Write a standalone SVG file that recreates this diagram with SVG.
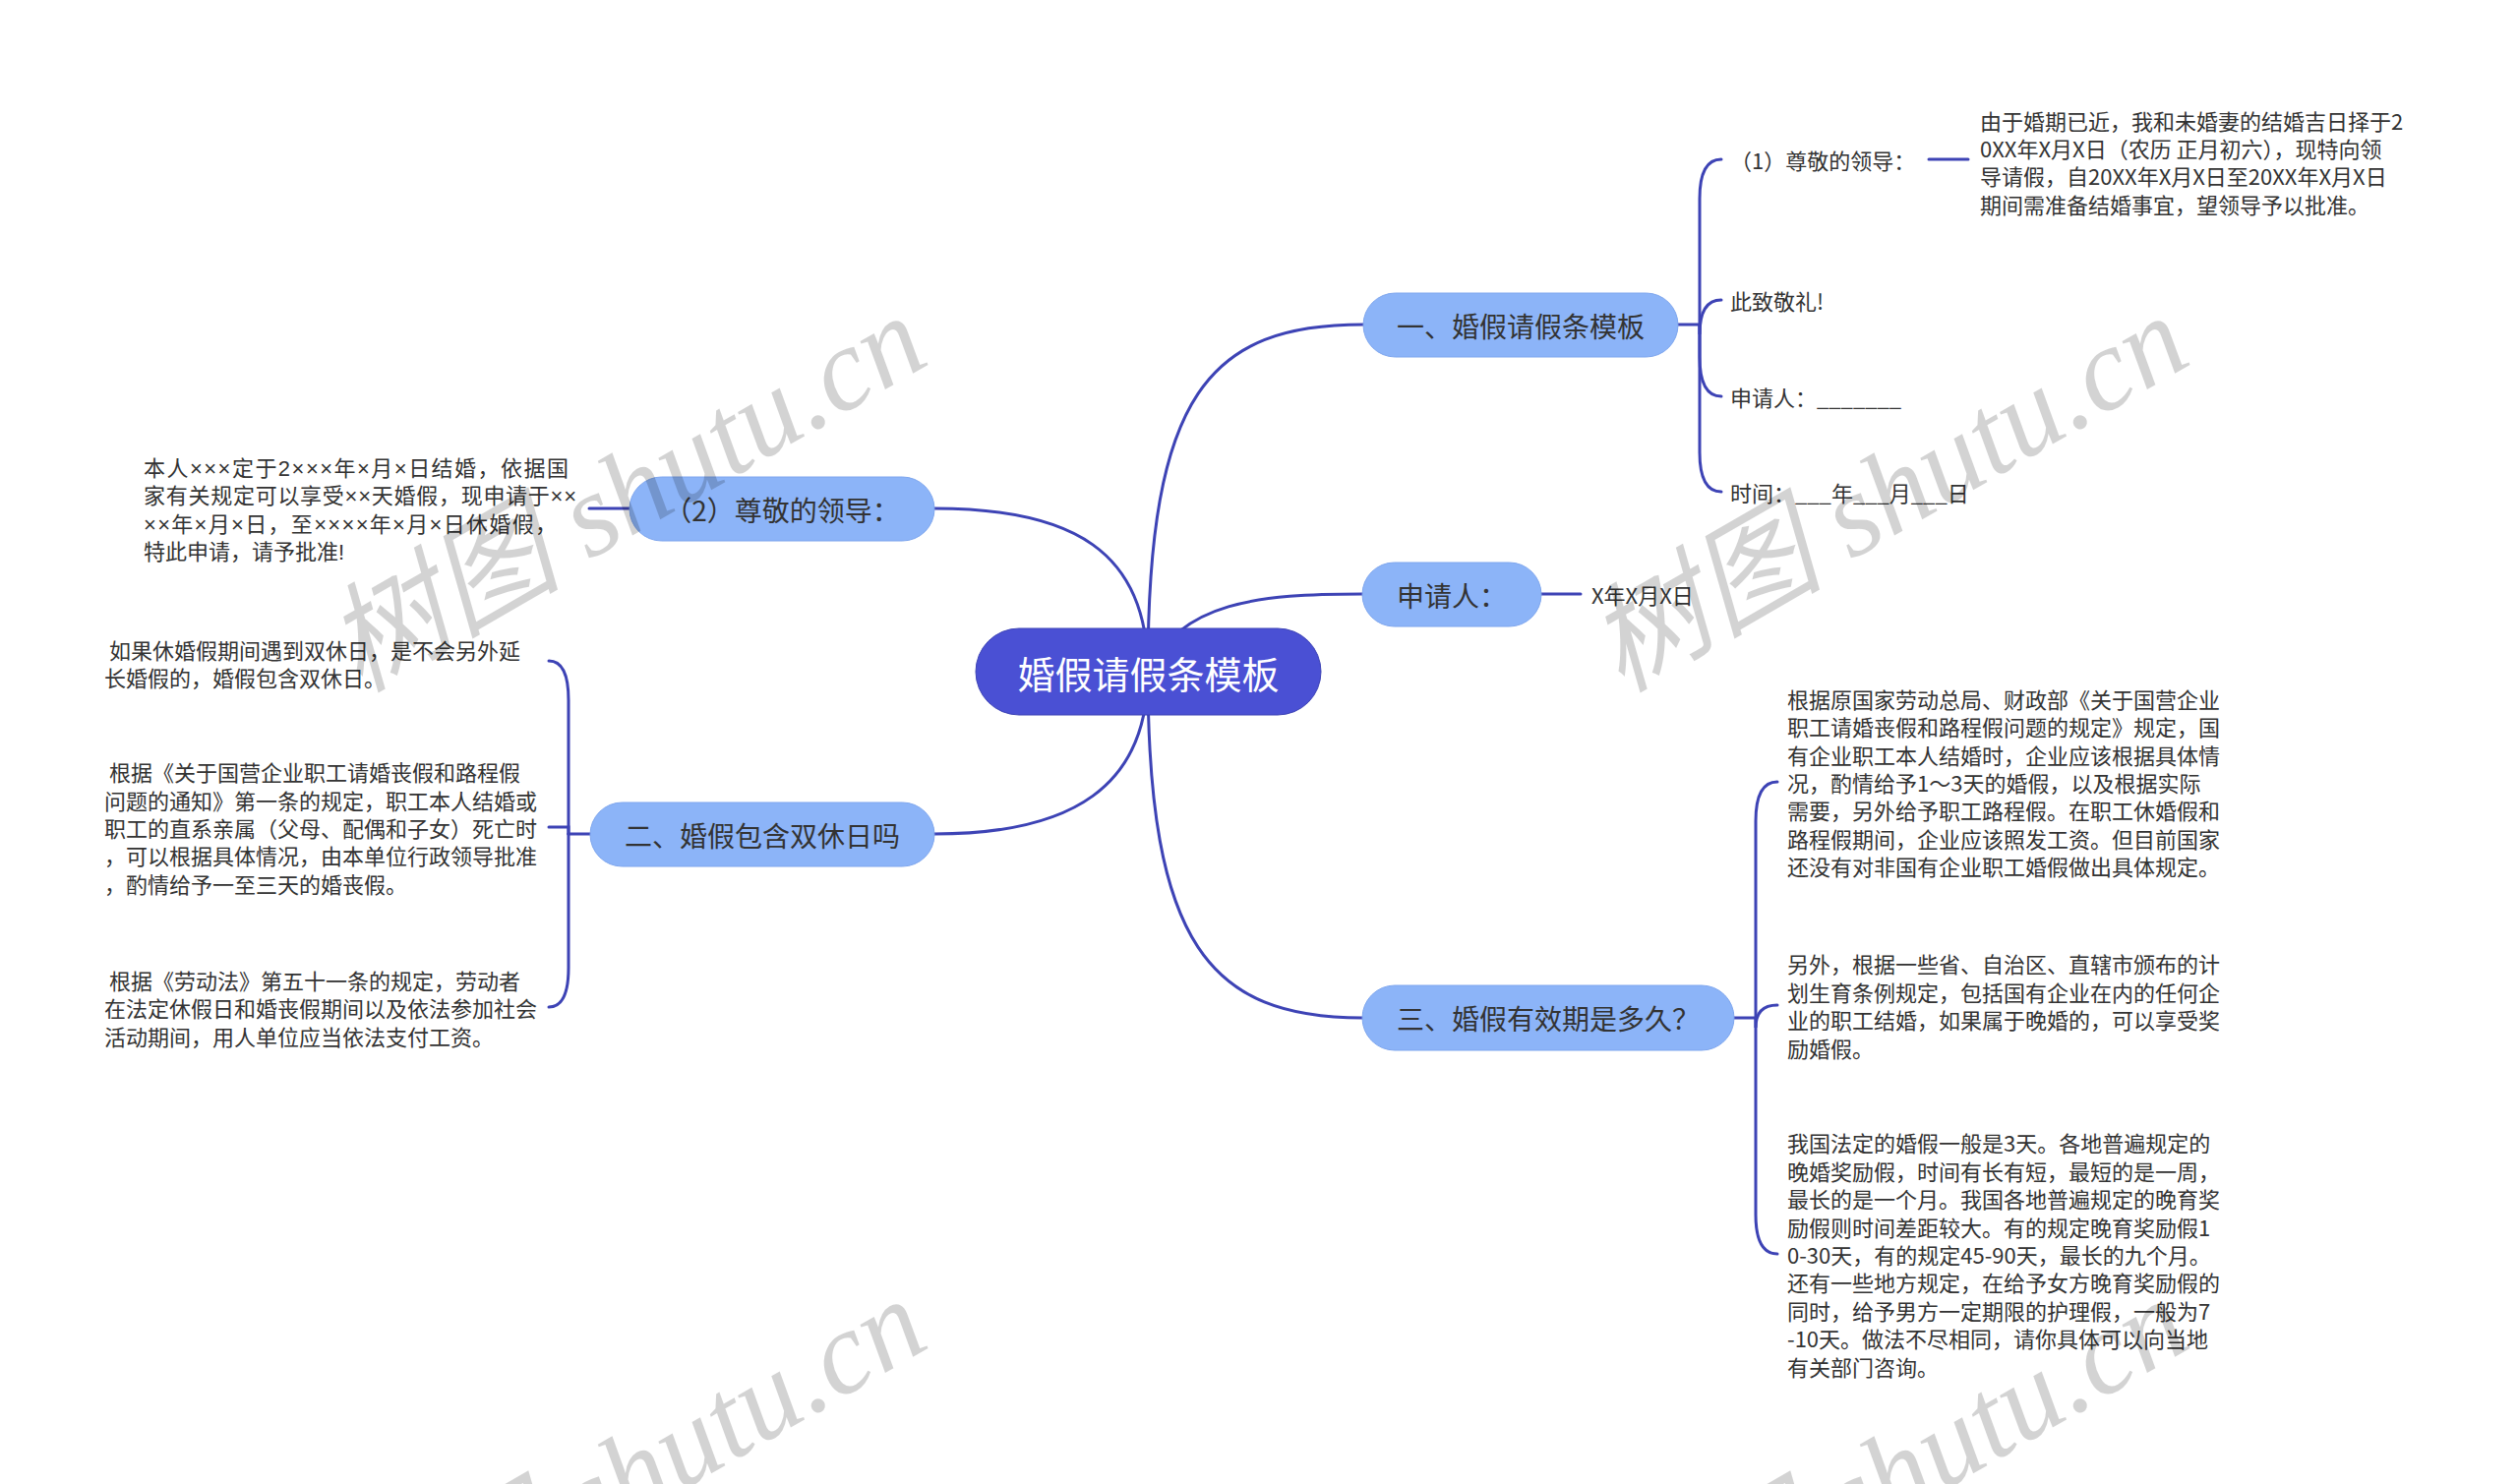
<svg xmlns="http://www.w3.org/2000/svg" width="2560" height="1509" viewBox="0 0 2560 1509">
<style>
text{font-family:"Noto Sans CJK SC","Noto Sans",sans-serif;}
.c{fill:none;stroke:#3d43b5;stroke-width:3;stroke-linecap:round;}
.n1{fill:#8cb4f8;stroke:#7ea6ee;stroke-width:1;}
.t1{font-size:28px;fill:#333;text-anchor:middle;dominant-baseline:central;}
.lf{font-size:22px;fill:#333;dominant-baseline:central;}
.lat{font-family:"Liberation Sans","Noto Sans CJK SC",sans-serif;}
.wm{font-family:"Liberation Serif","Noto Sans CJK SC",serif;font-style:italic;font-size:120px;fill:#000;opacity:0.17;}
</style>
<rect x="0" y="0" width="2560" height="1509" fill="#fff"/>
<g id="connectors">
<path class="c" d="M1167 683 C1167 400 1230 330 1386 330"/>
<path class="c" d="M1167 683 C1200 612 1280 604 1385 604"/>
<path class="c" d="M1167 683 C1167 960 1230 1035 1385 1035"/>
<path class="c" d="M1167 683 C1167 560 1090 517 950 517"/>
<path class="c" d="M1167 683 C1167 800 1090 848 950 848"/>
<path class="c" d="M1706 330 H1728"/>
<path class="c" d="M1728 330 V202 Q1728 162 1750 162"/>
<path class="c" d="M1728 330 V340 Q1728 305 1750 305"/>
<path class="c" d="M1728 330 V363 Q1728 403 1750 403"/>
<path class="c" d="M1728 330 V460 Q1728 500 1750 500"/>
<path class="c" d="M1961 162 H2001"/>
<path class="c" d="M1567 604 H1607"/>
<path class="c" d="M1763 1035 H1785"/>
<path class="c" d="M1785 1035 V835 Q1785 795 1807 795"/>
<path class="c" d="M1785 1035 V1045 Q1785 1022 1807 1022"/>
<path class="c" d="M1785 1035 V1235 Q1785 1275 1807 1275"/>
<path class="c" d="M640 517 H599"/>
<path class="c" d="M600 848 H578"/>
<path class="c" d="M578 848 V712 Q578 672 558 672"/>
<path class="c" d="M578 848 V841 H558"/>
<path class="c" d="M578 848 V984 Q578 1024 558 1024"/>
</g>
<g id="root">
<rect x="992" y="639" width="351" height="88" rx="44" fill="#4a50d4" stroke="#3d43b5" stroke-width="1"/>
<text x="1167.5" y="683" font-size="38" fill="#fff" text-anchor="middle" dominant-baseline="central">婚假请假条模板</text>
</g>
<g id="n1">
<rect class="n1" x="1386" y="298" width="320" height="65" rx="32.5"/>
<text class="t1" x="1546" y="330.5">一、婚假请假条模板</text>
</g>
<g id="n1-1">
<text class="lf" x="1759" y="162">（1）尊敬的领导：</text>
</g>
<g id="n1-1-1">
<text class="lf" x="2013"><tspan x="2013" y="121.5">由于婚期已近，我和未婚妻的结婚吉日择于2</tspan><tspan x="2013" y="149.9">0XX年X月X日（农历 正月初六），现特向领</tspan><tspan x="2013" y="178.3">导请假，自20XX年X月X日至20XX年X月X日</tspan><tspan x="2013" y="206.7">期间需准备结婚事宜，望领导予以批准。</tspan></text>
</g>
<g id="n1-2"><text class="lf" x="1759" y="305">此致敬礼!</text></g>
<g id="n1-3"><text class="lf" x="1759" y="403">申请人：_______</text></g>
<g id="n1-4"><text class="lf" x="1759" y="500">时间：___年___月___日</text></g>
<g id="n2">
<rect class="n1" x="1385" y="572" width="182" height="65" rx="32.5"/>
<text class="t1" x="1476" y="604.5">申请人：</text>
</g>
<g id="n2-1"><text class="lf" x="1618" y="604">X年X月X日</text></g>
<g id="n3">
<rect class="n1" x="1385" y="1002" width="378" height="66" rx="33"/>
<text class="t1" x="1574" y="1035">三、婚假有效期是多久？</text>
</g>
<g id="n3-1">
<text class="lf" x="1817"><tspan x="1817" y="709.8">根据原国家劳动总局、财政部《关于国营企业</tspan><tspan x="1817" y="738.2">职工请婚丧假和路程假问题的规定》规定，国</tspan><tspan x="1817" y="766.6">有企业职工本人结婚时，企业应该根据具体情</tspan><tspan x="1817" y="795">况，酌情给予1～3天的婚假，以及根据实际</tspan><tspan x="1817" y="823.4">需要，另外给予职工路程假。在职工休婚假和</tspan><tspan x="1817" y="851.8">路程假期间，企业应该照发工资。但目前国家</tspan><tspan x="1817" y="880.2">还没有对非国有企业职工婚假做出具体规定。</tspan></text>
</g>
<g id="n3-2">
<text class="lf" x="1817"><tspan x="1817" y="979.4">另外，根据一些省、自治区、直辖市颁布的计</tspan><tspan x="1817" y="1007.8">划生育条例规定，包括国有企业在内的任何企</tspan><tspan x="1817" y="1036.2">业的职工结婚，如果属于晚婚的，可以享受奖</tspan><tspan x="1817" y="1064.6">励婚假。</tspan></text>
</g>
<g id="n3-3">
<text class="lf" x="1817"><tspan x="1817" y="1161.4">我国法定的婚假一般是3天。各地普遍规定的</tspan><tspan x="1817" y="1189.8">晚婚奖励假，时间有长有短，最短的是一周，</tspan><tspan x="1817" y="1218.2">最长的是一个月。我国各地普遍规定的晚育奖</tspan><tspan x="1817" y="1246.6">励假则时间差距较大。有的规定晚育奖励假1</tspan><tspan x="1817" y="1275">0-30天，有的规定45-90天，最长的九个月。</tspan><tspan x="1817" y="1303.4">还有一些地方规定，在给予女方晚育奖励假的</tspan><tspan x="1817" y="1331.8">同时，给予男方一定期限的护理假，一般为7</tspan><tspan x="1817" y="1360.2">-10天。做法不尽相同，请你具体可以向当地</tspan><tspan x="1817" y="1388.6">有关部门咨询。</tspan></text>
</g>
<g id="n4">
<rect class="n1" x="640" y="485" width="310" height="65" rx="32.5"/>
<text class="t1" x="795" y="517.5">（2）尊敬的领导：</text>
</g>
<g id="n4-1">
<text class="lf lat" x="146"><tspan x="146" y="476" textLength="432" lengthAdjust="spacing">本人×××定于2×××年×月×日结婚，依据国</tspan><tspan x="146" y="504.4" textLength="440" lengthAdjust="spacing">家有关规定可以享受××天婚假，现申请于××</tspan><tspan x="146" y="532.8" textLength="420" lengthAdjust="spacing">××年×月×日，至××××年×月×日休婚假，</tspan><tspan x="146" y="561.2">特此申请，请予批准!</tspan></text>
</g>
<g id="n5">
<rect class="n1" x="600" y="816" width="350" height="65" rx="32.5"/>
<text class="t1" x="775" y="848.5">二、婚假包含双休日吗</text>
</g>
<g id="n5-1">
<text class="lf" x="106" xml:space="preserve"><tspan x="106" y="660"> 如果休婚假期间遇到双休日，是不会另外延</tspan><tspan x="106" y="688.4">长婚假的，婚假包含双休日。</tspan></text>
</g>
<g id="n5-2">
<text class="lf" x="106" xml:space="preserve"><tspan x="106" y="784.2"> 根据《关于国营企业职工请婚丧假和路程假</tspan><tspan x="106" y="812.6">问题的通知》第一条的规定，职工本人结婚或</tspan><tspan x="106" y="841">职工的直系亲属（父母、配偶和子女）死亡时</tspan><tspan x="106" y="869.4">，可以根据具体情况，由本单位行政领导批准</tspan><tspan x="106" y="897.8">，酌情给予一至三天的婚丧假。</tspan></text>
</g>
<g id="n5-3">
<text class="lf" x="106" xml:space="preserve"><tspan x="106" y="996"> 根据《劳动法》第五十一条的规定，劳动者</tspan><tspan x="106" y="1024.4">在法定休假日和婚丧假期间以及依法参加社会</tspan><tspan x="106" y="1052.8">活动期间，用人单位应当依法支付工资。</tspan></text>
</g>
<g id="watermarks">
<text class="wm" transform="translate(365 705) rotate(-30)">树图 shutu.cn</text>
<text class="wm" transform="translate(1648 705) rotate(-30)">树图 shutu.cn</text>
<text class="wm" transform="translate(365 1705) rotate(-30)">树图 shutu.cn</text>
<text class="wm" transform="translate(1648 1705) rotate(-30)">树图 shutu.cn</text>
</g>
</svg>
